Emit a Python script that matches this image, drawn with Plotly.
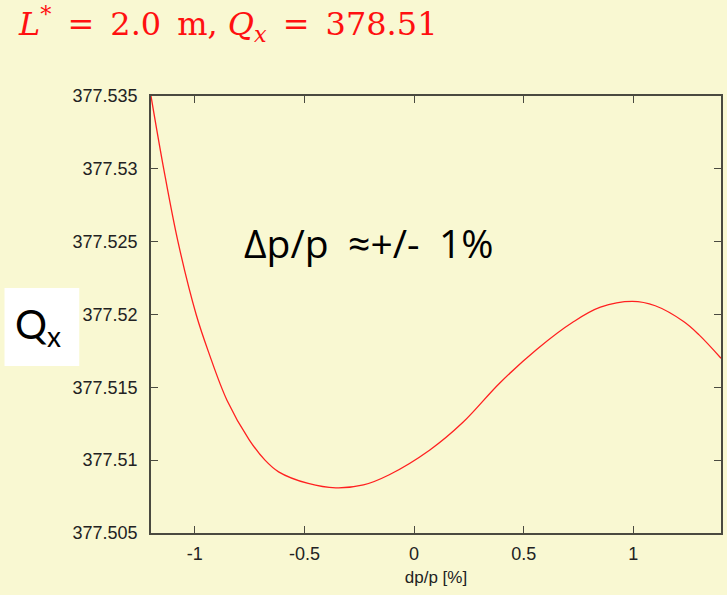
import plotly.graph_objects as go

# Data
dp = [-1.2, -1.142, -1.077, -0.994, -0.937, -0.853, -0.752, -0.68, -0.618, -0.483,
      -0.357, -0.231, -0.113, 0.072, 0.223, 0.391, 0.559, 0.727, 0.85, 0.996,
      1.1, 1.231, 1.3, 1.40]
qx = [377.535, 377.530, 377.525, 377.520, 377.5174, 377.5141, 377.5114, 377.5100,
      377.5092, 377.5084, 377.5081, 377.5083, 377.5090, 377.5107, 377.5126, 377.5153,
      377.5176, 377.5195, 377.5205, 377.5209, 377.5206, 377.5195, 377.5186, 377.5170]

ytick_vals = [377.505, 377.51, 377.515, 377.52, 377.525, 377.53, 377.535]
ytick_text = ["377.505", "377.51", "377.515", "377.52", "377.525", "377.53", "377.535"]
xtick_vals = [-1, -0.5, 0, 0.5, 1]
xtick_text = ["-1", "-0.5", "0", "0.5", "1"]

W, H = 727, 595
L, R, T, B = 151, 4, 96, 62
pw, ph = W - L - R, H - T - B

def px(x):
    return (x - L) / pw

def py(y):
    return (H - B - y) / ph

BG = "#F9F8D2"
AX = "#4a4a40"

fig = go.Figure()
fig.add_trace(go.Scatter(x=dp, y=qx, mode="lines",
                         line=dict(color="#FF2020", width=1.3, shape="spline", smoothing=1.0),
                         hoverinfo="skip", showlegend=False))

axis_common = dict(showgrid=False, zeroline=False, showline=True, linecolor=AX, linewidth=1.5,
                   ticks="inside", ticklen=7, tickwidth=1.3, tickcolor=AX, mirror="allticks",
                   tickfont=dict(family="Liberation Sans, Arial", size=18, color="#222222"))

fig.update_xaxes(range=[-1.2, 1.4], tickmode="array", tickvals=xtick_vals, ticktext=xtick_text,
                 title=dict(text="dp/p [%]", font=dict(family="Liberation Sans, Arial", size=17,
                                                        color="#222222"), standoff=8),
                 ticklabelstandoff=4, **axis_common)
fig.update_yaxes(range=[377.505, 377.535], tickmode="array", tickvals=ytick_vals,
                 ticktext=ytick_text, ticklabelstandoff=8, **axis_common)

fig.add_shape(type="rect", xref="paper", yref="paper", x0=px(4), x1=px(79), y0=py(366), y1=py(288),
              fillcolor="white", line=dict(width=0), layer="above")

fig.add_annotation(xref="paper", yref="paper", x=px(13), y=py(326), xanchor="left", yanchor="middle",
                   text="Q<sub>x</sub>", showarrow=False,
                   font=dict(family="Lato, Open Sans, sans-serif", size=40, color="black"))

fig.add_annotation(xref="paper", yref="paper", x=px(16), y=py(24), xanchor="left", yanchor="middle",
                   text="<i>L</i><sup>*</sup>\u2002=\u20022.0\u2002m, <i>Q<sub>x</sub></i>\u2002=\u2002378.51",
                   showarrow=False,
                   font=dict(family="DejaVu Serif, Liberation Serif, serif", size=32, color="#FF1010"))

fig.add_annotation(xref="paper", yref="paper", x=px(370), y=py(242), xanchor="center", yanchor="middle",
                   text="Δp/p\u2002≈+/-\u20021%", showarrow=False,
                   font=dict(family="Open Sans, Lato, sans-serif", size=39, color="black"))

fig.update_layout(width=W, height=H, margin=dict(l=L, r=R, t=T, b=B),
                  paper_bgcolor=BG, plot_bgcolor=BG)

fig.write_html("out.html")
